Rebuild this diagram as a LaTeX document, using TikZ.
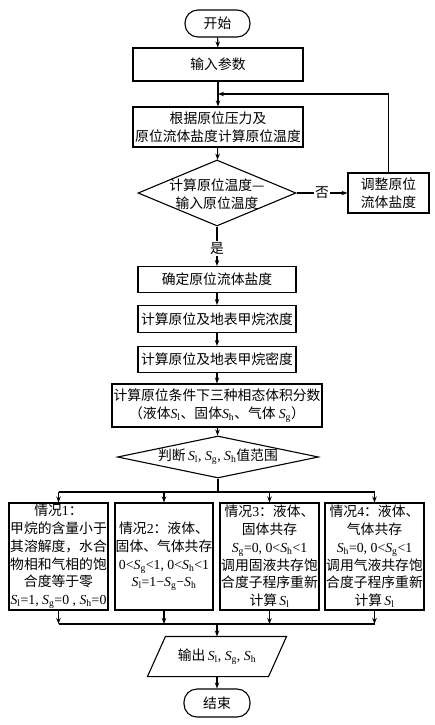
\documentclass[tikz,border=0pt]{standalone}
\usepackage{fontspec}
\setmainfont{Liberation Serif}
\newfontfamily\cjk{Noto Sans CJK SC}
\usetikzlibrary{arrows.meta,calc,shapes.geometric}
\newcommand{\Sv}[1]{{\rmfamily\itshape S}\textsubscript{\rmfamily\upshape #1}}
\newcommand{\rmt}[1]{{\rmfamily #1}}
\begin{document}
\begin{tikzpicture}[x=1pt,y=-1pt, line width=1.1pt,
  >={Stealth[length=6pt,width=4.5pt]},
  txt/.style={inner sep=0pt, align=center, font=\cjk\fontsize{13.8}{17.7}\selectfont},
  box/.style={txt, draw, rectangle},
  term/.style={txt, draw, rectangle, rounded corners=13pt},
  dia/.style={draw, diamond, inner sep=0pt},
  lbl/.style={txt, fill=white, inner sep=1.5pt}]
\useasboundingbox (0,0) rectangle (434,725);

\node[term, minimum width=65pt, minimum height=27pt] (start) at (217.5,23.5) {开始};
\node[box, minimum width=170pt, minimum height=33pt] (input) at (218,64.5) {输入参数};
\node[box, minimum width=170pt, minimum height=40pt] (calc) at (218,127) {根据原位压力及\\原位流体盐度计算原位温度};
\node[dia, minimum width=158pt, minimum height=66pt] (d1) at (217,193) {};
\node[txt] (d1t) at (217,194) {计算原位温度—\\输入原位温度};
\node[box, minimum width=81pt, minimum height=40pt] (adj) at (388.5,193) {调整原位\\流体盐度};
\node[box, minimum width=158pt, minimum height=26pt] (conf) at (217,279.5) {确定原位流体盐度};
\node[box, minimum width=158pt, minimum height=27pt] (conc) at (217,319) {计算原位及地表甲烷浓度};
\node[box, minimum width=158pt, minimum height=26pt] (dens) at (217,359.5) {计算原位及地表甲烷密度};
\node[box, minimum width=210pt, minimum height=43pt] (phase) at (217,405.5) {计算原位条件下三种相态体积分数\\（液体\Sv{l}、固体\Sv{h}、气体 \Sv{g}）};
\node[dia, minimum width=201pt, minimum height=42pt] (d2) at (218,457) {};
\node[txt] (d2t) at (218,457) {判断\,\Sv{l}\rmt{, }\Sv{g}\rmt{, }\Sv{h}值范围};

\node[box, minimum width=99pt, minimum height=107pt] (c1) at (58.5,556.5) {情况\rmt{1}：\\甲烷的含量小于\\其溶解度，水合\\物相和气相的饱\\合度等于零\\\Sv{l}\rmt{=1, }\Sv{g}\rmt{=0 , }\Sv{h}\rmt{=0}};
\node[box, minimum width=98pt, minimum height=107pt] (c2) at (164,556.5) {情况\rmt{2}：液体、\\固体、气体共存\\\rmt{0<}\Sv{g}\rmt{<1, 0<}\Sv{h}\rmt{<1}\\\Sv{l}\rmt{=1−}\Sv{g}\rmt{−}\Sv{h}};
\node[box, minimum width=99pt, minimum height=107pt] (c3) at (269.5,556.5) {情况\rmt{3}：液体、\\固体共存\\\Sv{g}\rmt{=0, 0<}\Sv{h}\rmt{<1}\\调用固液共存饱\\合度子程序重新\\计算\,\Sv{l}};
\node[box, minimum width=99pt, minimum height=107pt] (c4) at (374.5,556.5) {情况\rmt{4}：液体、\\气体共存\\\Sv{h}\rmt{=0, 0<}\Sv{g}\rmt{<1}\\调用气液共存饱\\合度子程序重新\\计算\,\Sv{l}};

\node[txt, minimum width=120pt, minimum height=39pt] (out) at (217,656.5) {输出\,\Sv{l}\rmt{, }\Sv{g}\rmt{, }\Sv{h}};
\draw ($(out.south west)+(-9,0)$) -- ($(out.north west)+(9,0)$) -- ($(out.north east)+(9,0)$) -- ($(out.south east)+(-9,0)$) -- cycle;
\node[term, minimum width=66pt, minimum height=28pt] (end) at (217,703) {结束};

\coordinate (fb) at (218,94);
\coordinate (fbr) at (388.5,94);
\coordinate (split) at (218,492);
\coordinate (merge) at (217,624);

\draw[->] (start) -- (input);
\draw[->] (input) -- (calc);
\draw[->] (adj.north) -- (fbr) -- (fb);
\draw[->] (calc) -- (d1);
\draw[->] (d1.east) -- node[lbl]{否} (adj.west);
\draw[->] (d1.south) -- node[lbl, pos=0.55]{是} (conf.north);
\draw[->] (conf) -- (conc);
\draw[->] (conc) -- (dens);
\draw[->] (dens) -- (phase);
\draw[->] (phase) -- (d2);
\draw (d2.south) -- (split);
\draw (c1.north |- split) -- (c4.north |- split);
\foreach \c in {c1,c2,c3,c4} {
  \draw[->] (\c.north |- split) -- (\c.north);
  \draw[->] (\c.south) -- (\c.south |- merge);
}
\draw (c1.south |- merge) -- (c4.south |- merge);
\draw[->] (merge) -- (out.north);
\draw[->] (out.south) -- (end);
\end{tikzpicture}
\end{document}
